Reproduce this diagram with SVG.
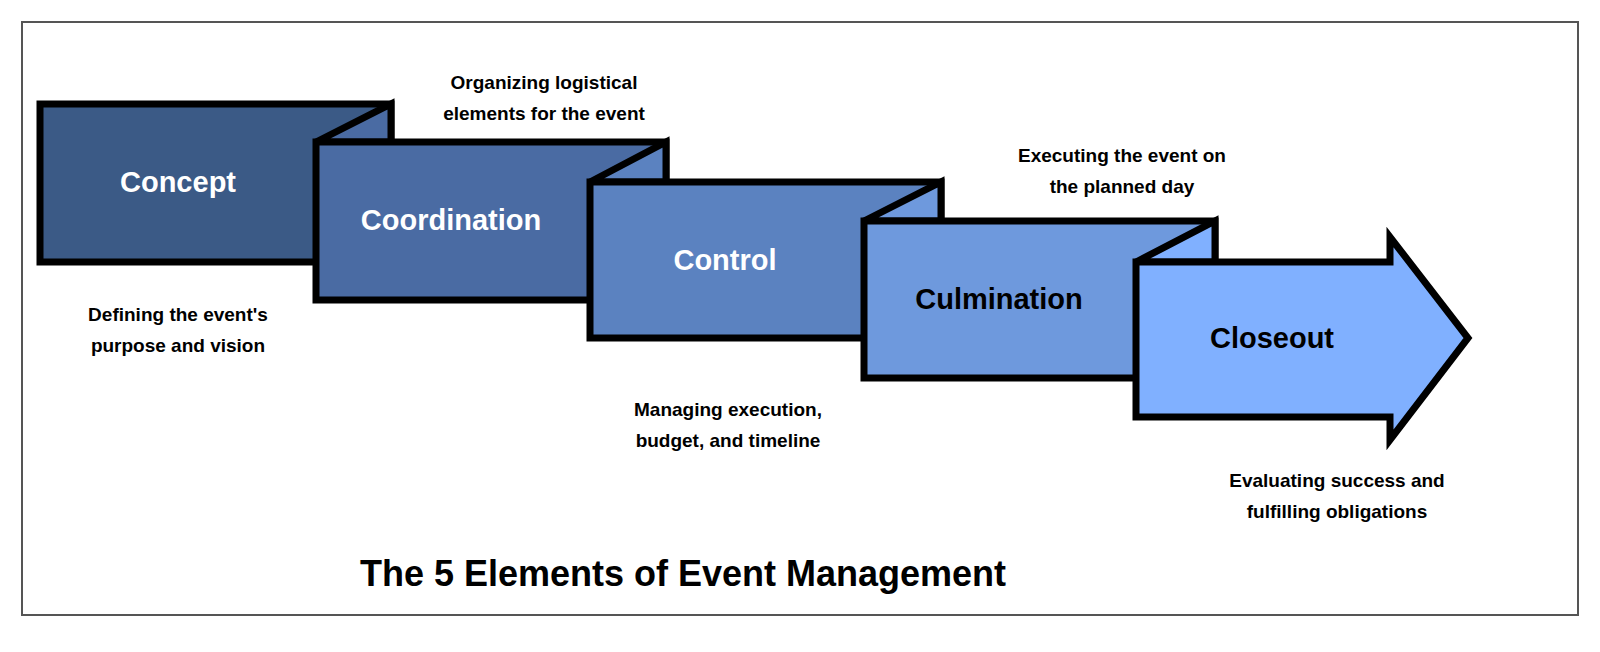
<svg xmlns="http://www.w3.org/2000/svg" width="1600" height="652" viewBox="0 0 1600 652">
<style>
.b{stroke:#000;stroke-width:7;stroke-linejoin:miter}
.t{font-family:"Liberation Sans",Arial,sans-serif;font-weight:bold;text-anchor:middle}
.n{font-size:29px}
.d{font-size:19px;fill:#000}
</style>
<rect width="1600" height="652" fill="#fff"/>
<rect x="22" y="22" width="1556" height="593" fill="none" stroke="#555" stroke-width="2"/>
<g id="concept">
<rect class="b" x="40" y="104" width="351" height="158" fill="#3b5a86"/>
<text class="t n" x="178" y="192" fill="#fff">Concept</text>
</g>
<g id="coordination">
<polygon class="b" points="316,142 391,104 391,142" fill="#4a6ba3"/>
<rect class="b" x="316" y="142" width="350" height="158" fill="#4a6ba3"/>
<text class="t n" x="451" y="230" fill="#fff">Coordination</text>
</g>
<g id="control">
<polygon class="b" points="590,182 666,142 666,182" fill="#5b82c0"/>
<rect class="b" x="590" y="182" width="351" height="156" fill="#5b82c0"/>
<text class="t n" x="725" y="270" fill="#fff">Control</text>
</g>
<g id="culmination">
<polygon class="b" points="864,221 941,182 941,221" fill="#6e99dd"/>
<rect class="b" x="864" y="221" width="351" height="157" fill="#6e99dd"/>
<text class="t n" x="999" y="309" fill="#000">Culmination</text>
</g>
<g id="closeout">
<polygon class="b" points="1136,262 1215,221 1215,262" fill="#80b0ff"/>
<polygon class="b" points="1136,262 1390,262 1390,237 1468,338 1390,440 1390,417 1136,417" fill="#80b0ff"/>
<text class="t n" x="1272" y="348" fill="#000">Closeout</text>
</g>
<g id="labels">
<text class="t d" x="178" y="321">Defining the event's</text>
<text class="t d" x="178" y="352">purpose and vision</text>
<text class="t d" x="544" y="89">Organizing logistical</text>
<text class="t d" x="544" y="120">elements for the event</text>
<text class="t d" x="728" y="416">Managing execution,</text>
<text class="t d" x="728" y="447">budget, and timeline</text>
<text class="t d" x="1122" y="162">Executing the event on</text>
<text class="t d" x="1122" y="193">the planned day</text>
<text class="t d" x="1337" y="487">Evaluating success and</text>
<text class="t d" x="1337" y="518">fulfilling obligations</text>
<text class="t" x="683" y="586" font-size="36">The 5 Elements of Event Management</text>
</g>
<g id="connectors"/>
</svg>
